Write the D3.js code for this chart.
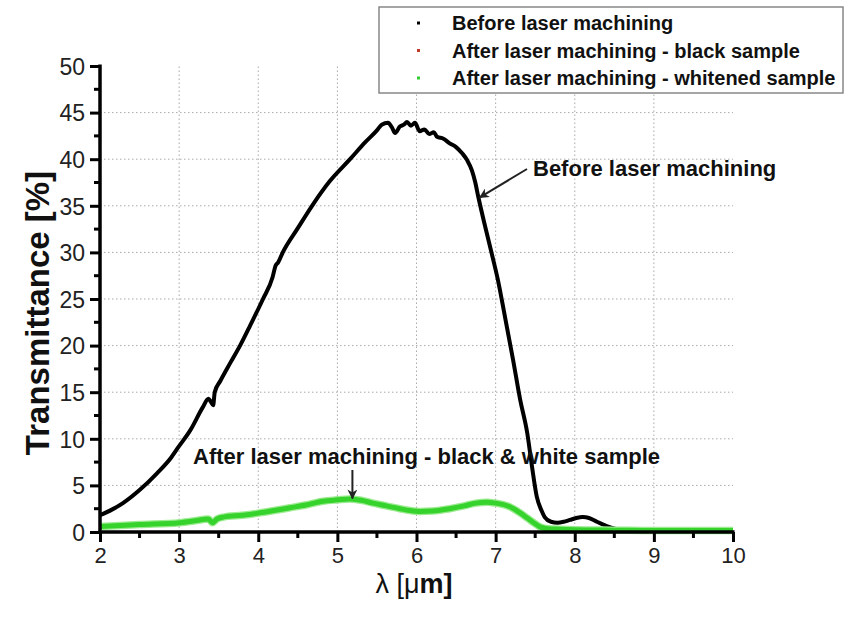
<!DOCTYPE html>
<html>
<head>
<meta charset="utf-8">
<script src="https://cdn.jsdelivr.net/npm/d3@7"></script>
<style>
  body { margin: 0; background: #fff; }
  text { font-family: "Liberation Sans", Arial, sans-serif; }
</style>
</head>
<body>
<svg id="chart"></svg>
<script>
// wavelength [um] and transmittance [%]
var beforeX = [2.00, 2.15, 2.29, 2.50, 2.72, 2.90, 2.99, 3.14, 3.30, 3.37, 3.40, 3.43, 3.45, 3.52, 3.65, 3.77, 3.90, 4.06, 4.18, 4.22, 4.25, 4.31, 4.50, 4.68, 4.90, 5.16, 5.35, 5.50, 5.56, 5.64, 5.69, 5.73, 5.79, 5.84, 5.88, 5.93, 5.98, 6.04, 6.10, 6.16, 6.22, 6.26, 6.34, 6.42, 6.50, 6.58, 6.64, 6.70, 6.74, 6.78, 6.87, 6.95, 7.03, 7.12, 7.22, 7.31, 7.40, 7.46, 7.52, 7.58, 7.62, 7.70, 7.78, 7.86, 7.94, 8.02, 8.10, 8.18, 8.28, 8.36, 8.45, 8.53, 8.61, 8.80, 9.20, 10.00];
var beforeY = [1.8, 2.4, 3.1, 4.5, 6.3, 8.0, 9.1, 10.9, 13.4, 14.3, 14.0, 13.6, 15.0, 16.2, 18.2, 20.0, 22.2, 25.0, 27.3, 28.6, 28.9, 30.0, 32.6, 35.0, 37.6, 40.0, 41.8, 43.1, 43.7, 43.9, 43.4, 42.8, 43.5, 43.7, 44.0, 43.6, 43.9, 43.0, 43.2, 42.7, 42.9, 42.4, 42.2, 41.7, 41.3, 40.6, 39.9, 38.8, 37.6, 36.0, 32.7, 29.9, 27.0, 23.0, 18.5, 14.2, 10.6, 7.0, 3.8, 2.3, 1.6, 1.1, 1.0, 1.1, 1.3, 1.5, 1.6, 1.5, 1.1, 0.8, 0.5, 0.3, 0.2, 0.1, 0.1, 0.1];

var afterX = [2.00, 2.50, 3.01, 3.20, 3.37, 3.42, 3.48, 3.56, 3.80, 3.98, 4.20, 4.40, 4.60, 4.82, 5.00, 5.15, 5.30, 5.45, 5.62, 5.79, 5.92, 6.04, 6.20, 6.42, 6.60, 6.75, 6.89, 7.00, 7.18, 7.30, 7.40, 7.48, 7.56, 7.66, 7.81, 8.00, 8.50, 9.00, 10.00];
var blackSampleY = [0.5, 0.7, 0.9, 1.1, 1.3, 1.0, 1.3, 1.5, 1.7, 1.9, 2.2, 2.5, 2.8, 3.2, 3.4, 3.5, 3.35, 3.05, 2.75, 2.45, 2.25, 2.15, 2.2, 2.45, 2.75, 3.05, 3.15, 3.05, 2.65, 2.05, 1.45, 0.95, 0.5, 0.3, 0.25, 0.2, 0.15, 0.1, 0.1];
var whitenedY = [0.6, 0.8, 1.0, 1.2, 1.4, 1.0, 1.4, 1.6, 1.8, 2.0, 2.3, 2.6, 2.9, 3.3, 3.45, 3.55, 3.4, 3.1, 2.8, 2.5, 2.3, 2.2, 2.25, 2.5, 2.8, 3.1, 3.2, 3.1, 2.7, 2.1, 1.5, 1.0, 0.55, 0.35, 0.3, 0.25, 0.2, 0.15, 0.15];

var xTicks = [2, 3, 4, 5, 6, 7, 8, 9, 10];
var yTicks = [0, 5, 10, 15, 20, 25, 30, 35, 40, 45, 50];
var legendNames = ["Before laser machining", "After laser machining - black sample", "After laser machining - whitened sample"];
var legendColors = ["#000000", "#c0392b", "#33cc33"];

var width = 846, height = 621;
var svg = d3.select("#chart").attr("width", width).attr("height", height);

var x = d3.scaleLinear().domain([2, 10]).range([100, 733]);
var y = d3.scaleLinear().domain([0, 50]).range([532, 66]);

svg.append("defs").append("marker")
    .attr("id", "arrow")
    .attr("viewBox", "0 0 10 10")
    .attr("refX", 9).attr("refY", 5)
    .attr("markerWidth", 10).attr("markerHeight", 10)
    .attr("markerUnits", "userSpaceOnUse")
    .attr("orient", "auto")
    .append("path")
    .attr("d", "M0,0 L10,5 L0,10 L3,5 Z")
    .attr("fill", "#222");

// grid
var grid = svg.append("g").attr("class", "grid")
    .attr("stroke", "#aaa").attr("stroke-width", 1).attr("stroke-dasharray", "1.5,2.5");
grid.selectAll("line.h").data(yTicks.filter(function (d) {return d > 0 && d < 50;})).enter()
    .append("line")
    .attr("x1", x(2)).attr("x2", x(10))
    .attr("y1", function (d) {return y(d);})
    .attr("y2", function (d) {return y(d);});
grid.selectAll("line.v").data(xTicks.filter(function (d) {return d > 2 && d < 10;})).enter()
    .append("line")
    .attr("y1", y(0)).attr("y2", y(50))
    .attr("x1", function (d) {return x(d);})
    .attr("x2", function (d) {return x(d);});

// curves
var line = d3.line()
    .x(function (d) {return x(d[0]);})
    .y(function (d) {return y(d[1]);})
    .curve(d3.curveMonotoneX);

var before = d3.zip(beforeX, beforeY);
var blackSample = d3.zip(afterX, blackSampleY);
var whitened = d3.zip(afterX, whitenedY);

svg.append("path").datum(before)
    .attr("fill", "none").attr("stroke", "#000").attr("stroke-width", 4)
    .attr("stroke-linejoin", "round")
    .attr("d", line);

svg.append("path").datum(blackSample)
    .attr("fill", "none").attr("stroke", "#8b1a1a").attr("stroke-width", 2)
    .attr("d", line);

svg.append("path").datum(whitened)
    .attr("fill", "none").attr("stroke", "#9ceb90").attr("stroke-width", 7.5)
    .attr("stroke-linejoin", "round")
    .attr("d", line);
svg.append("path").datum(whitened)
    .attr("fill", "none").attr("stroke", "#35d32c").attr("stroke-width", 5)
    .attr("stroke-linejoin", "round")
    .attr("d", line);

// axes
var xAxis = d3.axisBottom(x).tickValues(xTicks).tickSize(10).tickPadding(5).tickFormat(d3.format("d"));
var yAxis = d3.axisLeft(y).tickValues(yTicks).tickSize(10).tickPadding(5).tickFormat(d3.format("d"));

var gx = svg.append("g").attr("transform", "translate(0," + y(0) + ")").call(xAxis);
var gy = svg.append("g").attr("transform", "translate(" + x(2) + ",0)").call(yAxis);

[gx, gy].forEach(function (g) {
    g.select(".domain").attr("stroke", "#000").attr("stroke-width", 3.5);
    g.selectAll(".tick line").attr("stroke", "#000").attr("stroke-width", 3);
    g.selectAll(".tick text").attr("fill", "#222").style("font-family", "'Liberation Sans', Arial, sans-serif");
});
gx.select(".domain").attr("d", "M" + (x(2) - 1.5) + ",0H" + (x(10) + 1.5));
gy.select(".domain").attr("d", "M0," + (y(0) + 1.5) + "V" + (y(50) - 1.5));
gx.selectAll(".tick text").style("font-size", "22px");
gy.selectAll(".tick text").style("font-size", "23px").attr("dy", "0.36em");

// minor ticks
var xMinor = d3.range(2.5, 10, 1);
var yMinor = d3.range(2.5, 50, 5);
svg.append("g").selectAll("line").data(xMinor).enter().append("line")
    .attr("x1", function (d) {return x(d);}).attr("x2", function (d) {return x(d);})
    .attr("y1", y(0)).attr("y2", y(0) + 6)
    .attr("stroke", "#000").attr("stroke-width", 3);
svg.append("g").selectAll("line").data(yMinor).enter().append("line")
    .attr("y1", function (d) {return y(d);}).attr("y2", function (d) {return y(d);})
    .attr("x1", x(2)).attr("x2", x(2) - 6)
    .attr("stroke", "#000").attr("stroke-width", 3);

// axis titles
svg.append("text")
    .attr("transform", "translate(49,313) rotate(-90)")
    .attr("text-anchor", "middle")
    .style("font-size", "33px").style("font-weight", "bold").attr("fill", "#111")
    .text("Transmittance [%]");

var xt = svg.append("text")
    .attr("x", 414).attr("y", 593)
    .attr("text-anchor", "middle")
    .style("font-size", "27px").attr("fill", "#111");
xt.append("tspan").text("λ [μ");
xt.append("tspan").style("font-weight", "bold").text("m]");

// annotations
svg.append("text")
    .attr("x", 533).attr("y", 176)
    .style("font-size", "22px").style("font-weight", "bold").attr("fill", "#111")
    .text("Before laser machining");
svg.append("line")
    .attr("x1", 527).attr("y1", 169)
    .attr("x2", x(6.8)).attr("y2", y(35.9))
    .attr("stroke", "#222").attr("stroke-width", 2)
    .attr("marker-end", "url(#arrow)");

svg.append("text")
    .attr("x", 193).attr("y", 464)
    .style("font-size", "22px").style("font-weight", "bold").attr("fill", "#111")
    .text("After laser machining - black & white sample");
svg.append("line")
    .attr("x1", x(5.19)).attr("y1", 470)
    .attr("x2", x(5.19)).attr("y2", y(3.6))
    .attr("stroke", "#222").attr("stroke-width", 2)
    .attr("marker-end", "url(#arrow)");

// legend
var legend = svg.append("g");
legend.append("rect")
    .attr("x", 379).attr("y", 7).attr("width", 464).attr("height", 86)
    .attr("fill", "#fff").attr("stroke", "#888").attr("stroke-width", 1.5);
var item = legend.selectAll("g.item").data(legendNames).enter().append("g")
    .attr("transform", function (d, i) {return "translate(0," + (23 + i * 27.5) + ")";});
item.append("rect")
    .attr("x", 417).attr("y", -1.5).attr("width", 3).attr("height", 3)
    .attr("fill", function (d, i) {return legendColors[i];});
item.append("text")
    .attr("x", 452).attr("y", 7)
    .style("font-size", "20px").style("font-weight", "bold").attr("fill", "#111")
    .text(function (d) {return d;});
</script>
</body>
</html>
